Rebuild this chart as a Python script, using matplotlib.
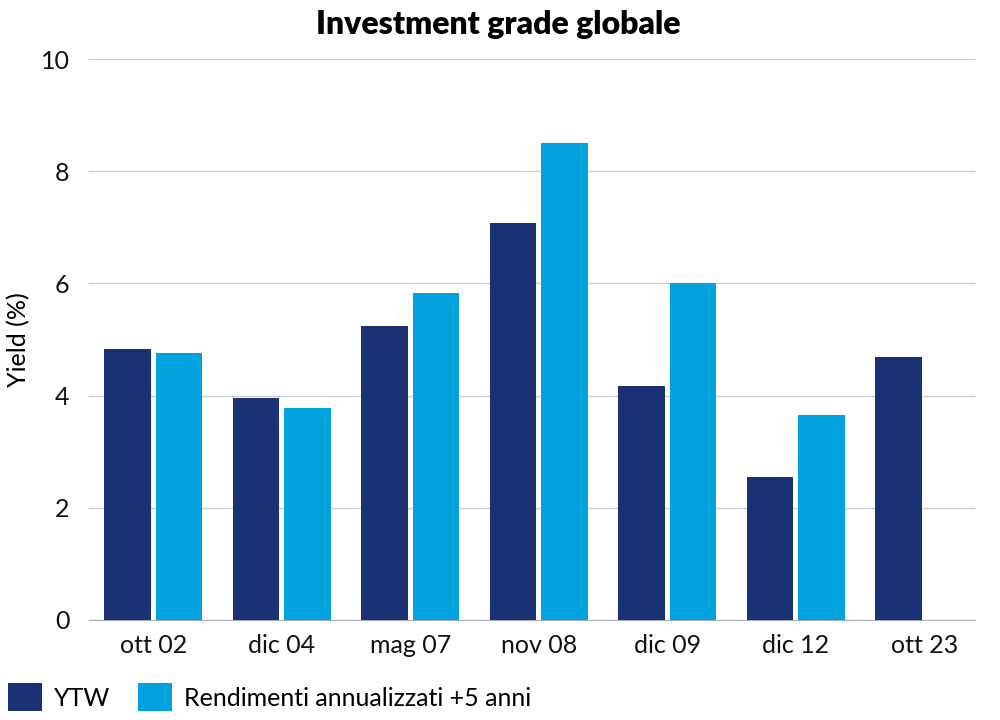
import matplotlib
matplotlib.use('Agg')
import matplotlib.pyplot as plt
import numpy as np

categories = ['ott 02', 'dic 04', 'mag 07', 'nov 08', 'dic 09', 'dic 12', 'ott 23']
ytw = [4.83, 3.96, 5.24, 7.08, 4.17, 2.55, 4.69]
rendimenti = [4.76, 3.78, 5.83, 8.50, 6.01, 3.65, np.nan]
yticks = [0, 2, 4, 6, 8, 10]

navy = '#1a3273'
cyan = '#00a3e0'

plt.rcParams['font.family'] = ['Lato', 'DejaVu Sans']

fig = plt.figure(figsize=(10, 7.2), dpi=100)
ax = fig.add_axes([0.089, 0.139, 0.886, 0.779])

x = np.arange(len(categories))
w = 0.36
ax.bar(x - 0.2, ytw, width=w, color=navy, label='YTW', zorder=3)
ax.bar(x + 0.2, rendimenti, width=w, color=cyan, label='Rendimenti annualizzati +5 anni', zorder=3)

# la griglia finisce prima dell'ultimo gruppo
ax.set_xlim(-0.5, 6.395)
ax.set_ylim(0, 10)
ax.set_yticks(yticks)
ax.set_xticks(x)
ax.set_xticklabels(categories)
ax.tick_params(axis='both', length=0, labelsize=18, colors='#111111')
ax.tick_params(axis='x', pad=10)
ax.tick_params(axis='y', pad=14)
ax.grid(axis='y', color='#c8ccd2', linewidth=1, zorder=0)
for s in ['top', 'right', 'left']:
    ax.spines[s].set_visible(False)
ax.spines['bottom'].set_color('#aab0b8')

ax.set_ylabel('Yield (%)', fontsize=18)
ax.yaxis.set_label_coords(-0.066, 0.5)
fig.text(0.498, 0.966, 'Investment grade globale', ha='center', va='center',
         fontsize=23, fontweight='heavy')

fig.legend(loc='lower left', bbox_to_anchor=(0.008, 0.012), ncol=2, frameon=False,
           fontsize=18, handlelength=1.35, handleheight=1.35, handletextpad=0.5,
           columnspacing=1.1, borderaxespad=0, borderpad=0)

fig.savefig('out.png', dpi=100)
